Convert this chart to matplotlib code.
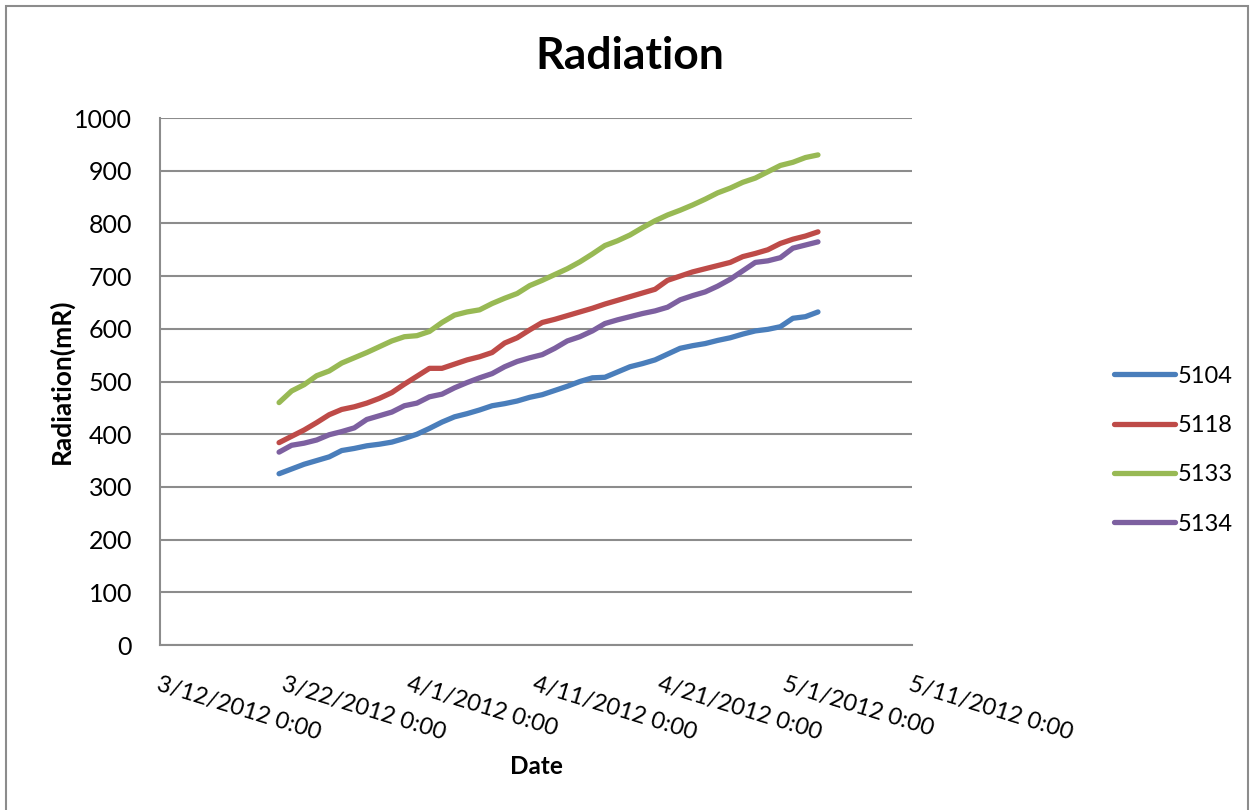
import pandas as pd
import matplotlib.pyplot as plt
import matplotlib.dates as mdates
from matplotlib.patches import Rectangle

plt.rcParams['font.family'] = ['Lato', 'DejaVu Sans']

# one reading per day
dates = pd.date_range("2012-03-21 12:00", "2012-05-03 12:00", freq="D")

r5104 = [325, 334, 343, 350, 357, 369, 373, 378, 381, 385, 392, 400, 411, 423, 433,
         439, 446, 454, 458, 463, 470, 475, 483, 491, 500, 507, 508, 518, 528, 534,
         541, 552, 563, 568, 572, 578, 583, 590, 596, 599, 604, 620, 623, 632]
r5118 = [384, 396, 408, 422, 437, 447, 452, 459, 468, 479, 495, 510, 525, 525, 533,
         541, 547, 555, 573, 583, 598, 612, 618, 625, 632, 639, 647, 654, 661, 668,
         675, 692, 700, 708, 714, 720, 726, 737, 743, 750, 762, 770, 776, 784]
r5133 = [460, 482, 494, 511, 520, 535, 545, 555, 566, 577, 585, 587, 595, 612, 626,
         632, 636, 648, 658, 667, 682, 692, 703, 714, 727, 742, 758, 767, 778, 792,
         805, 816, 825, 835, 846, 858, 867, 878, 886, 898, 910, 916, 925, 930]
r5134 = [366, 379, 383, 389, 399, 405, 412, 428, 435, 442, 454, 459, 471, 476, 488,
         498, 507, 515, 528, 538, 545, 551, 563, 577, 585, 596, 610, 617, 623, 629,
         634, 641, 655, 663, 670, 681, 694, 710, 726, 729, 735, 753, 759, 765]

series = ["5104", "5118", "5133", "5134"]
colors = ["#4A7EBB", "#BE4B48", "#98B954", "#7D60A0"]

fig = plt.figure(figsize=(12.52, 8.1), dpi=100)
ax = fig.add_axes([0.1278, 0.2037, 0.6006, 0.6506])

for name, vals, c in zip(series, [r5104, r5118, r5133, r5134], colors):
    ax.plot(dates, vals, color=c, linewidth=3.8, solid_capstyle="round",
            solid_joinstyle="round", label=name)

ticks = pd.date_range("2012-03-12", "2012-05-11", freq="10D")
ax.set_xlim(ticks[0], ticks[-1])
ax.set_xticks(ticks)
ax.set_xticklabels([f"{d.month}/{d.day}/{d.year} 0:00" for d in ticks],
                   rotation=-17, ha="left", va="top", rotation_mode="anchor",
                   fontsize=17)
ax.set_ylim(0, 1000)
ax.set_yticks(range(0, 1001, 100))

ax.grid(axis="y", color="#8C8C8C", linewidth=1.5)
ax.set_axisbelow(True)
for s in ["top", "right"]:
    ax.spines[s].set_visible(False)
for s in ["left", "bottom"]:
    ax.spines[s].set_color("#8C8C8C")
    ax.spines[s].set_linewidth(1.5)
ax.tick_params(length=0)
ax.tick_params(axis="y", labelsize=18, pad=20)
ax.tick_params(axis="x", pad=21)

ax.set_xlabel("Date", fontsize=17.5, fontweight="bold", labelpad=8)
ax.set_ylabel("Radiation(mR)", fontsize=19, fontweight="bold", labelpad=0)
fig.suptitle("Radiation", x=0.503, y=0.955, fontsize=32, fontweight="bold")

ax.legend(loc="center left", bbox_to_anchor=(1.24, 0.37), frameon=False,
          fontsize=17, handlelength=2.6, handletextpad=0.1, labelspacing=1.2)

fig.patches.append(Rectangle((0.005, -0.05), 0.992, 1.043, transform=fig.transFigure,
                             fill=False, edgecolor="#8C8C8C", linewidth=1.5))

fig.savefig("out.png", dpi=100)
